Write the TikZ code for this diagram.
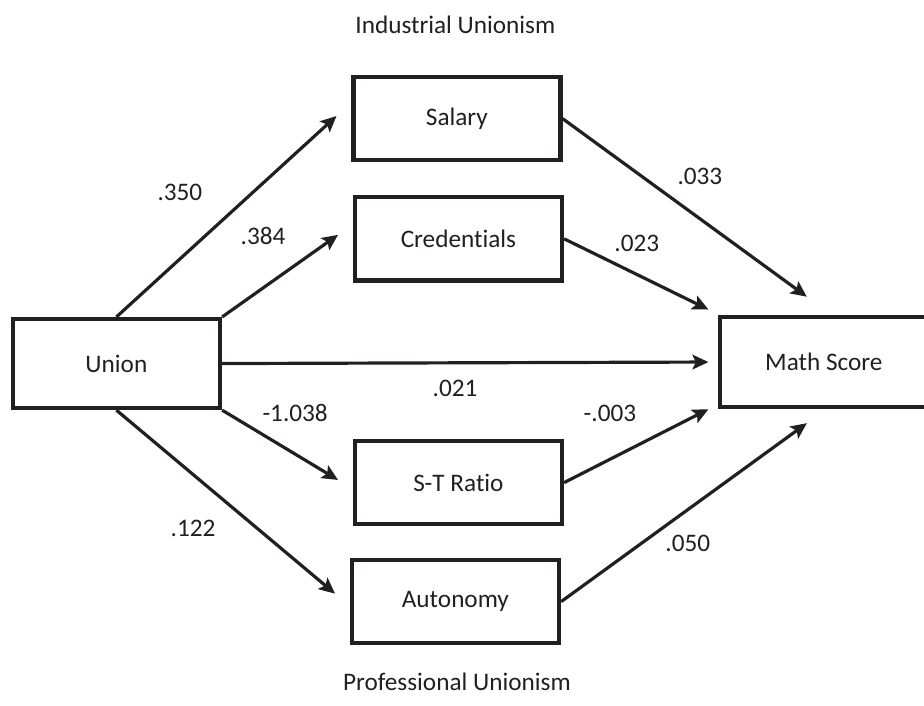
\documentclass[tikz,border=0pt]{standalone}
\usepackage{fontspec}
\setmainfont{Carlito}[Ligatures=NoCommon]
\usetikzlibrary{arrows.meta}
\definecolor{pathink}{RGB}{35, 31, 32}

\begin{document}
\begin{tikzpicture}[
  font=\fontsize{19}{23}\selectfont,
  vbox/.style={draw=pathink, line width=3.3pt, minimum width=5.48cm, minimum height=2.2cm, align=center, text=pathink},
  effect/.style={-{Stealth[length=12pt, width=11pt, inset=2.5pt]}, draw=pathink, line width=2.4pt},
  coef/.style={text=pathink, inner sep=1pt}
]
  \useasboundingbox (0, 0) rectangle (24.45, 18.68);

  \node[coef] (indtitle) at (12.05, 18.02) {Industrial Unionism};
  \node[coef, anchor=base] (proftitle) at (12.09, 0.40) {Professional Unionism};

  \node[vbox, minimum height=2.35cm] (union) at (3.08, 9.06) {Union};
  \node[vbox] (salary) at (12.09, 15.54) {Salary};
  \node[vbox] (cred) at (12.13, 12.36) {Credentials};
  \node[vbox] (stratio) at (12.13, 5.91) {S-T Ratio};
  \node[vbox] (auton) at (12.05, 2.76) {Autonomy};
  \node[vbox, minimum width=5.5cm, minimum height=2.38cm] (math) at (21.8, 9.10) {Math Score};

  % union to the mediators
  \draw[effect] (union.north) -- ([xshift=-11pt, yshift=2pt]salary.west);
  \draw[effect] (union.north east) -- ([xshift=-11pt, yshift=3pt]cred.west);
  \draw[effect] (union.east) -- ([xshift=-7pt]math.west);
  \draw[effect] (union.south east) -- ([xshift=-11pt, yshift=2pt]stratio.west);
  \draw[effect] (union.south) -- ([xshift=-11pt, yshift=6pt]auton.west);

  % mediators to the outcome
  \draw[effect] (salary.east) -- ([xshift=-0.45cm, yshift=0.48cm]math.north);
  \draw[effect] (cred.east) -- ([xshift=-7pt, yshift=4pt]math.north west);
  \draw[effect] (stratio.east) -- ([xshift=-7pt]math.south west);
  \draw[effect] (auton.east) -- ([xshift=-0.45cm, yshift=-0.37cm]math.south);

  \node[coef] (c350) at (4.76, 13.60) {.350};
  \node[coef] (c384) at (6.96, 12.44) {.384};
  \node[coef] (c021) at (12.04, 8.41) {.021};
  \node[coef] (c1038) at (7.81, 7.75) {-1.038};
  \node[coef] (c122) at (5.11, 4.71) {.122};
  \node[coef] (c033) at (18.52, 14.00) {.033};
  \node[coef] (c023) at (16.85, 12.25) {.023};
  \node[coef] (c003) at (16.14, 7.75) {-.003};
  \node[coef] (c050) at (18.20, 4.31) {.050};
\end{tikzpicture}
\end{document}
